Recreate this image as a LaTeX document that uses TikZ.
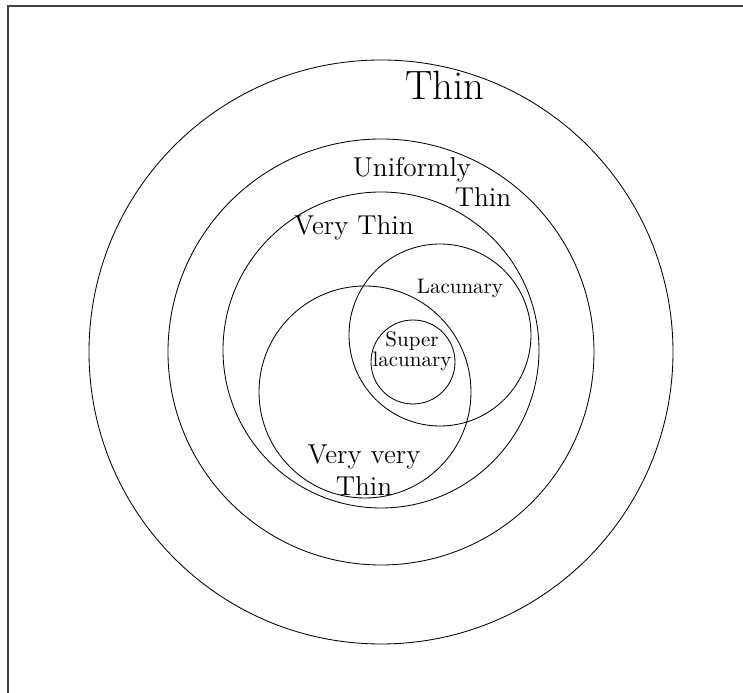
\documentclass[tikz,border=0pt]{standalone}

\begin{document}
\begin{tikzpicture}[
    x=0.476pt, y=-0.476pt,
    set/.style   = {thin},
    frame/.style = {line width=0.6pt, black!75},
    lbl/.style   = {inner sep=0pt, align=center},
    big/.style   = {font=\fontsize{19.5}{23}\selectfont},
    mid/.style   = {font=\fontsize{13}{15.2}\selectfont}
]

% page area and the frame round it
\clip (0, 0) rectangle (743, 693);
\draw[frame] (8, 6) rectangle (800, 750);

% nested classes: name / centre / radius
\foreach \name/\cx/\cy/\r in {thin/381/352/292, unif/381/352/213,
                              vthin/381/350/158, vvthin/365/392/106,
                              lac/440/335/91, slac/413/362/42}
{
    \coordinate (\name) at (\cx, \cy);
    \draw[set] (\name) circle (\r);
}

% class names
\node[lbl, big] (thinlbl)   at (445, 85)  {Thin};
\node[lbl, mid] (uniflbl)   at (412, 170) {Uniformly};
\node[lbl, mid] (uniflblb)  at (483, 197) {Thin};
\node[lbl, mid] (vthinlbl)  at (354, 228) {Very Thin};
\node[lbl]      (laclbl)    at (460, 288) {Lacunary};
\node[lbl]      (slaclbl)   at (412, 351) {Super\\[-2.5pt]lacunary};
\node[lbl, mid] (vvthinlbl) at (364, 470) {Very very\\Thin};

\end{tikzpicture}
\end{document}
